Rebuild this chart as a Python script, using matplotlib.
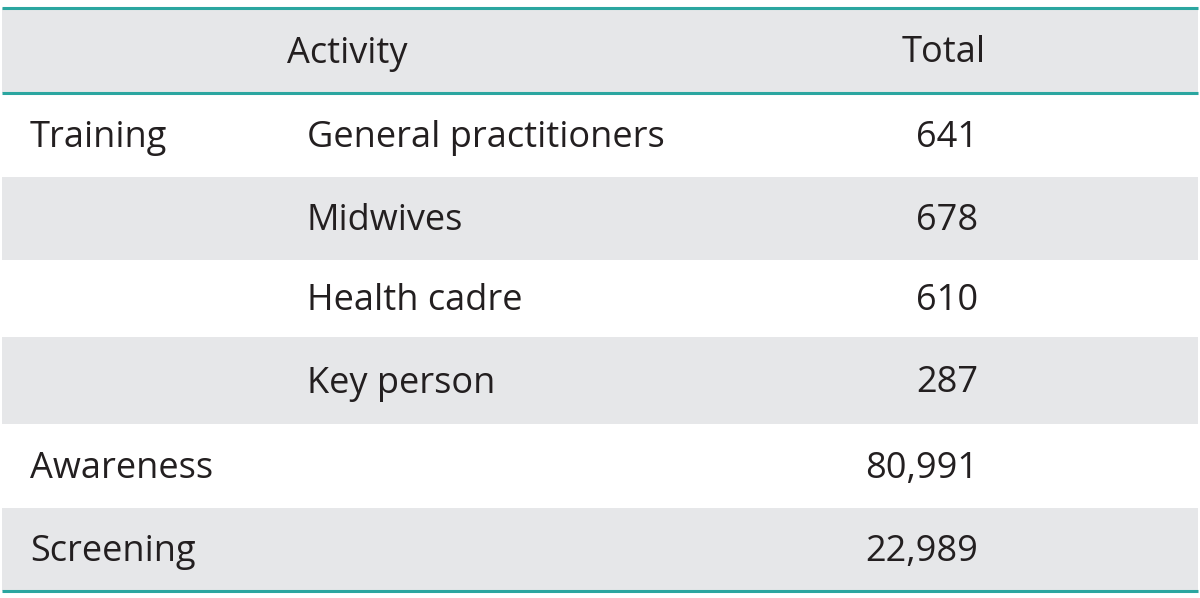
import matplotlib
matplotlib.use("Agg")
import matplotlib.pyplot as plt
from matplotlib.patches import Rectangle

# table content
header = ["Activity", "Total"]
groups = ["Training", "", "", "", "Awareness", "Screening"]
subitems = ["General practitioners", "Midwives", "Health cadre", "Key person", "", ""]
totals = [641, 678, 610, 287, 80991, 22989]

TEAL = "#2ba6a0"
GREY = "#e6e7e9"
INK = "#231f20"

# row boundaries in pixels (header first)
row_edges = [8, 93, 177, 260, 337, 424, 508, 591]
x0, x1 = 2, 1198

plt.rcParams["font.family"] = ["Open Sans", "DejaVu Sans"]
fig = plt.figure(figsize=(12, 5.98), dpi=100)
ax = fig.add_axes([0, 0, 1, 1])
ax.set_xlim(0, 1200)
ax.set_ylim(598, 0)
ax.axis("off")

fs = 26
dy = 3  # text sits a little below the row middle

# header band
ax.add_patch(Rectangle((x0, row_edges[0]), x1 - x0, row_edges[1] - row_edges[0],
                       facecolor=GREY, edgecolor="none"))
hy = (row_edges[0] + row_edges[1]) / 2 + dy
ax.text(347, hy, header[0], ha="center", va="center", fontsize=fs, color=INK)
ax.text(944, hy, header[1], ha="center", va="center", fontsize=fs, color=INK)

for i, (g, s, t) in enumerate(zip(groups, subitems, totals)):
    top, bot = row_edges[i + 1], row_edges[i + 2]
    if i % 2 == 1:
        ax.add_patch(Rectangle((x0, top), x1 - x0, bot - top,
                               facecolor=GREY, edgecolor="none"))
    cy = (top + bot) / 2 + dy
    if g:
        ax.text(30, cy, g, ha="left", va="center", fontsize=fs, color=INK)
    if s:
        ax.text(307, cy, s, ha="left", va="center", fontsize=fs, color=INK)
    ax.text(978, cy, f"{t:,}", ha="right", va="center", fontsize=fs, color=INK)

for y in (row_edges[0], row_edges[1], row_edges[-1]):
    ax.plot([x0, x1], [y, y], color=TEAL, linewidth=2.2, solid_capstyle="butt")

fig.savefig("out.png", dpi=100)
